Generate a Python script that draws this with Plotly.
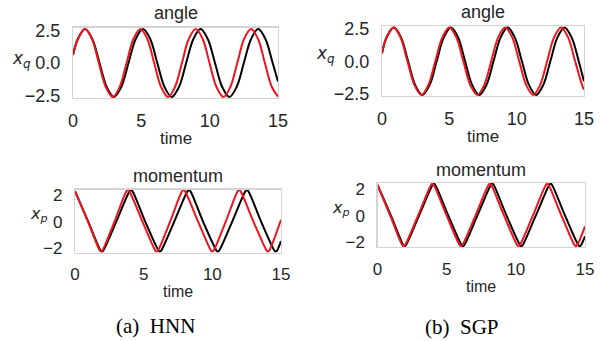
import plotly.graph_objects as go

# ---------------- data ----------------
# HNN - angle
hnn_q_red_t = [0, 0.37, 0.88, 1.39, 1.89, 2.40, 2.91, 3.41, 3.92, 4.42, 4.93, 5.44, 5.94, 6.45, 6.96,
               7.46, 7.97, 8.47, 8.98, 9.49, 9.99, 10.50, 11.01, 11.51, 12.02, 12.52, 13.03, 13.54,
               14.04, 14.55, 15.0]
hnn_q_red = [0.62, 1.84, 2.6, 1.84, 0, -1.84, -2.6, -1.84, 0, 1.84, 2.6, 1.84, 0, -1.84, -2.6,
             -1.84, 0, 1.84, 2.6, 1.84, 0, -1.84, -2.6, -1.84, 0, 1.84, 2.6, 1.84, 0, -1.84, -2.58]
hnn_q_black_t = [0, 0.35, 0.88, 1.41, 1.94, 2.47, 3.0, 3.53, 4.06, 4.59, 5.12, 5.65, 6.17, 6.70, 7.22,
                 7.75, 8.28, 8.81, 9.33, 9.86, 10.39, 10.92, 11.44, 11.97, 12.50, 13.03, 13.55, 14.08,
                 14.61, 15.0]
hnn_q_black = [0.62, 1.84, 2.6, 1.84, 0, -1.84, -2.6, -1.84, 0, 1.84, 2.6, 1.84, 0, -1.84, -2.6,
               -1.84, 0, 1.84, 2.6, 1.84, 0, -1.84, -2.6, -1.84, 0, 1.84, 2.6, 1.84, 0, -1.42]

# HNN - momentum
hnn_p_red_t = [0, 0.95, 1.8, 1.9, 2.0, 2.87, 3.75, 3.85, 3.95, 4.92, 5.85, 5.95, 6.05, 6.92, 7.8,
               7.9, 8.0, 8.97, 9.9, 10.0, 10.1, 10.97, 11.85, 11.95, 12.05, 13.0, 13.95, 14.05,
               14.15, 15.0]
hnn_p_red = [2.3, 0.0, -2.15, -2.25, -2.15, 0.0, 2.3, 2.38, 2.3, 0.0, -2.15, -2.25, -2.15, 0.0, 2.3,
             2.38, 2.3, 0.0, -2.15, -2.25, -2.15, 0.0, 2.3, 2.38, 2.3, 0.0, -2.15, -2.25, -2.15, 0.15]
hnn_p_black_t = [0, 0.97, 1.86, 1.96, 2.06, 3.0, 3.98, 4.08, 4.18, 5.12, 6.08, 6.18, 6.28, 7.22, 8.2,
                 8.3, 8.4, 9.33, 10.3, 10.4, 10.5, 11.44, 12.42, 12.52, 12.62, 13.56, 14.52, 14.62,
                 14.72, 15.0]
hnn_p_black = [2.3, 0.0, -2.15, -2.25, -2.15, 0.0, 2.3, 2.38, 2.3, 0.0, -2.15, -2.25, -2.15, 0.0, 2.3,
               2.38, 2.3, 0.0, -2.15, -2.25, -2.15, 0.0, 2.3, 2.38, 2.3, 0.0, -2.15, -2.25, -2.15, -1.45]

# SGP - angle
sgp_q_red_t = [0, 0.33, 0.85, 1.37, 1.89, 2.41, 2.93, 3.44, 3.96, 4.48, 5.0, 5.52, 6.04, 6.56, 7.08,
               7.59, 8.11, 8.63, 9.15, 9.67, 10.19, 10.71, 11.23, 11.74, 12.26, 12.78, 13.3, 13.82,
               14.34, 14.86, 15.0]
sgp_q_red = [0.62, 1.84, 2.6, 1.84, 0, -1.84, -2.6, -1.84, 0, 1.84, 2.6, 1.84, 0, -1.84, -2.6,
             -1.84, 0, 1.84, 2.6, 1.84, 0, -1.84, -2.6, -1.84, 0, 1.84, 2.6, 1.84, 0, -1.84, -2.19]
sgp_q_black_t = [0, 0.35, 0.88, 1.41, 1.94, 2.47, 3.0, 3.53, 4.06, 4.59, 5.12, 5.65, 6.17, 6.70, 7.22,
                 7.75, 8.28, 8.81, 9.33, 9.86, 10.39, 10.92, 11.44, 11.97, 12.50, 13.03, 13.55, 14.08,
                 14.61, 15.0]
sgp_q_black = [0.62, 1.84, 2.6, 1.84, 0, -1.84, -2.6, -1.84, 0, 1.84, 2.6, 1.84, 0, -1.84, -2.6,
               -1.84, 0, 1.84, 2.6, 1.84, 0, -1.84, -2.6, -1.84, 0, 1.84, 2.6, 1.84, 0, -1.55]

# SGP - momentum
sgp_p_red_t = [0, 0.92, 1.79, 1.89, 1.99, 2.93, 3.87, 3.97, 4.07, 5.0, 5.94, 6.04, 6.14, 7.08, 8.02,
               8.12, 8.22, 9.15, 10.09, 10.19, 10.29, 11.23, 12.17, 12.27, 12.37, 13.3, 14.24, 14.34,
               14.44, 15.0]
sgp_p_red = [2.3, 0.0, -2.2, -2.3, -2.2, 0.0, 2.3, 2.4, 2.3, 0.0, -2.2, -2.3, -2.2, 0.0, 2.3,
             2.4, 2.3, 0.0, -2.2, -2.3, -2.2, 0.0, 2.3, 2.4, 2.3, 0.0, -2.2, -2.3, -2.2, -0.8]
sgp_p_black_t = [0, 0.97, 1.86, 1.96, 2.06, 3.0, 3.98, 4.08, 4.18, 5.12, 6.08, 6.18, 6.28, 7.22, 8.2,
                 8.3, 8.4, 9.33, 10.3, 10.4, 10.5, 11.44, 12.42, 12.52, 12.62, 13.56, 14.52, 14.62,
                 14.72, 15.0]
sgp_p_black = [2.3, 0.0, -2.2, -2.3, -2.2, 0.0, 2.3, 2.4, 2.3, 0.0, -2.2, -2.3, -2.2, 0.0, 2.3,
               2.4, 2.3, 0.0, -2.2, -2.3, -2.2, 0.0, 2.3, 2.4, 2.3, 0.0, -2.2, -2.3, -2.2, -1.55]

x_ticks = [0, 5, 10, 15]
q_ticks = [-2.5, 0.0, 2.5]
q_tick_labels = ["\u22122.5", "0.0", "2.5"]
p_ticks = [-2, 0, 2]
p_tick_labels = ["\u22122", "0", "2"]

# ---------------- layout helpers ----------------
W, H = 600, 341
SANS = "Liberation Sans, Arial, sans-serif"
TXT = "#262626"
RED = "#f0141e"

def px(x):
    return x / W

def py(y):
    return 1 - y / H

panels = [
    dict(ax="", box=(73, 278, 27.5, 98), yr=[-2.68, 2.72], yt=q_ticks, yl=q_tick_labels,
         title="angle", sub="q", fs=18, tfs=17, title_y=13.5, time_y=138, lab=(21, 59),
         data=[(hnn_q_black_t, hnn_q_black, "black"), (hnn_q_red_t, hnn_q_red, RED)]),
    dict(ax="2", box=(382, 584, 26, 96), yr=[-2.68, 2.72], yt=q_ticks, yl=q_tick_labels,
         title="angle", sub="q", fs=18, tfs=17, title_y=12.5, time_y=136.5, lab=(325, 55),
         data=[(sgp_q_black_t, sgp_q_black, "black"), (sgp_q_red_t, sgp_q_red, RED)]),
    dict(ax="3", box=(75, 281, 189.5, 252.5), yr=[-2.3, 2.42], yt=p_ticks, yl=p_tick_labels,
         title="momentum", sub="p", fs=17, tfs=16, title_y=176, time_y=291.5, lab=(39, 214),
         data=[(hnn_p_black_t, hnn_p_black, "black"), (hnn_p_red_t, hnn_p_red, RED)]),
    dict(ax="4", box=(377.5, 585, 183, 247), yr=[-2.35, 2.45], yt=p_ticks, yl=p_tick_labels,
         title="momentum", sub="p", fs=17, tfs=16, title_y=170, time_y=286.5, lab=(341, 208),
         data=[(sgp_p_black_t, sgp_p_black, "black"), (sgp_p_red_t, sgp_p_red, RED)]),
]

fig = go.Figure()
annotations = []
layout_axes = {}

for p in panels:
    L, R, T, B = p["box"]
    xa = "x" + p["ax"]
    ya = "y" + p["ax"]
    for tt, vv, col in p["data"]:
        fig.add_trace(go.Scatter(x=tt, y=vv, mode="lines", xaxis=xa, yaxis=ya,
                                 line=dict(color=col, width=2, shape="spline", smoothing=1.0),
                                 showlegend=False, hoverinfo="skip"))
    common = dict(showline=True, mirror=True, linecolor="#d4d4d4", linewidth=1.2,
                  showgrid=False, zeroline=False, ticks="outside", tickcolor="rgba(0,0,0,0)",
                  automargin=False,
                  tickfont=dict(family=SANS, size=p["fs"], color=TXT))
    layout_axes["xaxis" + p["ax"]] = dict(domain=[px(L), px(R)], range=[0, 15], anchor=ya,
                                          tickvals=x_ticks, ticklen=6, **common)
    layout_axes["yaxis" + p["ax"]] = dict(domain=[py(B), py(T)], range=p["yr"], anchor=xa,
                                          tickvals=p["yt"], ticktext=p["yl"], ticklen=8, **common)
    cx = (L + R) / 2
    annotations.append(dict(text=p["title"], x=px(cx), y=py(p["title_y"]), xref="paper", yref="paper",
                            showarrow=False, xanchor="center", yanchor="middle",
                            font=dict(family=SANS, size=18, color=TXT)))
    annotations.append(dict(text="time", x=px(cx), y=py(p["time_y"]),
                            xref="paper", yref="paper", showarrow=False,
                            xanchor="center", yanchor="middle",
                            font=dict(family=SANS, size=p["tfs"], color=TXT)))
    annotations.append(dict(text="<i>x</i><sub><i>" + p["sub"] + "</i></sub>",
                            x=px(p["lab"][0]), y=py(p["lab"][1]),
                            xref="paper", yref="paper", showarrow=False,
                            xanchor="center", yanchor="middle",
                            font=dict(family="DejaVu Sans, sans-serif", size=p["fs"] - 1, color=TXT)))

annotations.append(dict(text="(a)  HNN", x=px(155), y=py(326), xref="paper", yref="paper",
                        showarrow=False, xanchor="center", yanchor="middle",
                        font=dict(family="Liberation Serif, Times New Roman, serif", size=21, color="black")))
annotations.append(dict(text="(b)  SGP", x=px(462), y=py(327), xref="paper", yref="paper",
                        showarrow=False, xanchor="center", yanchor="middle",
                        font=dict(family="Liberation Serif, Times New Roman, serif", size=21, color="black")))

fig.update_layout(width=W, height=H, margin=dict(l=0, r=0, t=0, b=0),
                  paper_bgcolor="white", plot_bgcolor="white",
                  annotations=annotations, **layout_axes)

# remove the browser's default 8px page margin so the figure fills the window exactly
fig.write_html("out.html",
               config={"displayModeBar": False, "staticPlot": True},
               post_script="document.body.style.margin='0px';document.body.style.overflow='hidden';")
